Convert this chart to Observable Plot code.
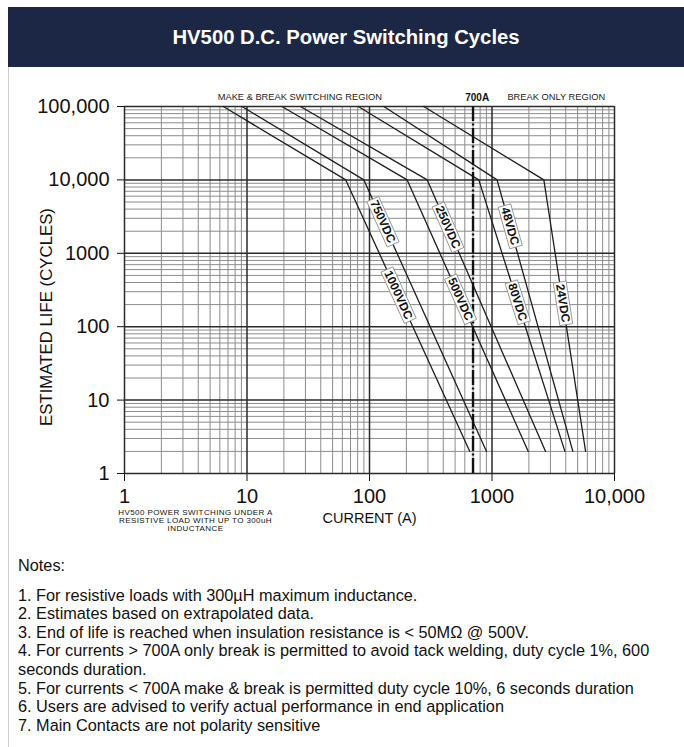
<!DOCTYPE html>
<html><head><meta charset="utf-8">
<script src="https://cdn.jsdelivr.net/npm/d3@7"></script>
<script src="https://cdn.jsdelivr.net/npm/@observablehq/plot@0.6"></script>
<style>
body{margin:0;font-family:"Liberation Sans",Arial,Helvetica,sans-serif;background:#fff}
#card{position:absolute;left:8px;top:7px;width:675px;height:760px;border-left:1px solid #cfcfcf}
#hdr{margin-left:-1px;height:60px;background:#1c2645;color:#fff;font-weight:bold;font-size:20.3px;display:flex;align-items:center;justify-content:center}
#chart svg{display:block}
#notes{padding-left:9px;font-size:16.3px;line-height:18.6px;color:#111;margin-top:15.7px;width:655px}
#notes p{margin:0}
#notes .head{margin-bottom:11.4px}
</style></head><body>
<div id="card"><div id="hdr">HV500 D.C. Power Switching Cycles</div><div id="chart"></div><div id="notes"></div></div>
<script>
// ---- data ----
const series    = ["1000VDC","750VDC","500VDC","250VDC","80VDC","48VDC","24VDC"];
const startAmps = [6.4, 9.1, 19.3, 27.3, 81, 131, 277];        // current at 100,000 cycles
const kneeAmps  = [64, 90, 203, 296, 780, 1100, 2650];          // current at 10,000 cycles
const endAmps   = [659, 902, 1977, 2737, 3936, 4571, 5808];     // current at 2 cycles
const lifePts   = [100000, 10000, 2];
const labelLife = [270, 2700, 237, 2270, 216, 2340, 209];
const xTicks = [1, 10, 100, 1000, 10000];
const xTickLabels = ["1", "10", "100", "1000", "10,000"];
const yTicks = [1, 10, 100, 1000, 10000, 100000];
const yTickLabels = ["1", "10", "100", "1000", "10,000", "100,000"];
const limitAmps = [700];
const regionLabels = ["MAKE & BREAK SWITCHING REGION", "700A", "BREAK ONLY REGION"];
const regionAmps = [27, 757, 3350];
const xTitle = "CURRENT (A)";
const yTitle = "ESTIMATED LIFE (CYCLES)";
const footnote = "HV500 POWER SWITCHING UNDER A\nRESISTIVE LOAD WITH UP TO 300uH\nINDUCTANCE";
const notesTitle = "Notes:";
const notes = [
  "1. For resistive loads with 300µH maximum inductance.",
  "2. Estimates based on extrapolated data.",
  "3. End of life is reached when insulation resistance is < 50MΩ @ 500V.",
  "4. For currents > 700A only break is permitted to avoid tack welding, duty cycle 1%, 600 seconds duration.",
  "5. For currents < 700A make & break is permitted duty cycle 10%, 6 seconds duration",
  "6. Users are advised to verify actual performance in end application",
  "7. Main Contacts are not polarity sensitive"
];

// ---- layout ----
const W = 675, H = 473, mL = 115, mR = 70, mT = 39, mB = 67;
const plotW = W - mL - mR, plotH = H - mT - mB;
const xDomain = [1, 10000], yDomain = [1, 100000];
const pxPerDecX = plotW / Math.log10(xDomain[1] / xDomain[0]);
const pxPerDecY = plotH / Math.log10(yDomain[1] / yDomain[0]);

const lines = series.flatMap((s, i) => [startAmps[i], kneeAmps[i], endAmps[i]].map((a, j) => ({series: s, amps: a, life: lifePts[j]})));
const labels = series.map((s, i) => {
  const L = Math.log10;
  const t = (L(lifePts[1]) - L(labelLife[i])) / (L(lifePts[1]) - L(lifePts[2]));
  const amps = Math.pow(10, L(kneeAmps[i]) + t * (L(endAmps[i]) - L(kneeAmps[i])));
  const ang = Math.atan2(pxPerDecY * (L(lifePts[1]) - L(lifePts[2])), pxPerDecX * (L(endAmps[i]) - L(kneeAmps[i]))) * 180 / Math.PI;
  return {series: s, amps, life: labelLife[i], angle: ang};
});
const minorX = d3.scaleLog().domain(xDomain).ticks().filter(v => !xTicks.includes(v));
const minorY = d3.scaleLog().domain(yDomain).ticks().filter(v => !yTicks.includes(v));
const regions = regionLabels.map((t, i) => ({label: t, amps: regionAmps[i], bold: t === "700A"}));

const svg = Plot.plot({
  width: W, height: H, marginLeft: mL, marginRight: mR, marginTop: mT, marginBottom: mB,
  style: {fontFamily: "Liberation Sans, Arial, Helvetica, sans-serif", fontSize: "20px", color: "#111", background: "white", overflow: "visible"},
  x: {type: "log", domain: xDomain, ticks: xTicks, tickFormat: d => xTickLabels[xTicks.indexOf(d)], tickSize: 8, tickPadding: 7, label: null},
  y: {type: "log", domain: yDomain, ticks: yTicks, tickFormat: d => yTickLabels[yTicks.indexOf(d)], tickSize: 7, tickPadding: 8, label: null},
  marks: [
    Plot.ruleX(minorX, {stroke: "#8c8c8c", strokeWidth: 1}),
    Plot.ruleY(minorY, {stroke: "#8c8c8c", strokeWidth: 1}),
    Plot.ruleX(xTicks, {stroke: "#2a2a2a", strokeWidth: 1.5}),
    Plot.ruleY(yTicks, {stroke: "#2a2a2a", strokeWidth: 1.5}),
    Plot.line(lines, {x: "amps", y: "life", z: "series", stroke: "#1e1e1e", strokeWidth: 1.3}),
    Plot.ruleX(limitAmps, {stroke: "#111", strokeWidth: 2.4, strokeDasharray: "15,2.5,2,2.5"}),
    Plot.text(labels, {x: "amps", y: "life", text: "series", rotate: "angle", fontSize: 12, fontWeight: "bold", fill: "#111"}),
    Plot.text(regions.filter(d => !d.bold), {x: "amps", text: "label", frameAnchor: "top", lineAnchor: "middle", dy: -9, fontSize: 9.3, fill: "#222"}),
    Plot.text(regions.filter(d => d.bold), {x: "amps", text: "label", frameAnchor: "top", lineAnchor: "middle", dy: -9, fontSize: 10, fontWeight: "bold", fill: "#111"}),
    Plot.text([xTitle], {frameAnchor: "bottom", lineAnchor: "middle", dy: 44.5, fontSize: 14.5, fill: "#111"}),
    Plot.text([yTitle], {frameAnchor: "left", textAnchor: "middle", lineAnchor: "middle", rotate: -90, dx: -77.5, dy: 27, fontSize: 16.8, fill: "#111"}),
    Plot.text([footnote], {frameAnchor: "bottom-left", textAnchor: "middle", lineAnchor: "middle", dx: 71, dy: 46.5, fontSize: 8, lineHeight: 1, fill: "#111"})
  ]
});
document.getElementById("chart").append(svg);

// white boxes behind the rotated curve labels
const NS = "http://www.w3.org/2000/svg";
svg.querySelectorAll("text").forEach(t => {
  if (/VDC$/.test(t.textContent)) {
    const bb = t.getBBox();
    const r = document.createElementNS(NS, "rect");
    r.setAttribute("x", bb.x - 2); r.setAttribute("y", bb.y + 0.5);
    r.setAttribute("width", bb.width + 4); r.setAttribute("height", bb.height - 1);
    r.setAttribute("fill", "white"); r.setAttribute("stroke", "#8a8a8a"); r.setAttribute("stroke-width", "0.8");
    if (t.getAttribute("transform")) r.setAttribute("transform", t.getAttribute("transform"));
    t.parentNode.insertBefore(r, t);
  }
  if (/RESISTIVE/.test(t.textContent)) t.style.letterSpacing = "0.4px";
});

// notes
const nd = document.getElementById("notes");
const h = document.createElement("p"); h.className = "head"; h.textContent = notesTitle; nd.append(h);
notes.forEach(n => { const p = document.createElement("p"); p.textContent = n; nd.append(p); });
</script>
</body></html>
